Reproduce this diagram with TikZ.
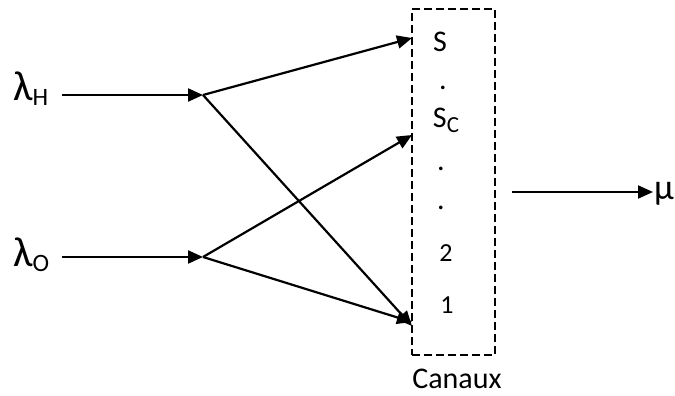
\documentclass[tikz,border=0pt]{standalone}
\usepackage{fontspec}
\setmainfont{Carlito}
\usetikzlibrary{arrows.meta}
\begin{document}
\begin{tikzpicture}[x=1pt,y=-1pt,
  arr/.style={line width=2.2pt,-{Triangle[length=15pt,width=13pt]}},
  lbl/.style={inner sep=0pt,anchor=base,font=\fontsize{30}{34}\selectfont},
  num/.style={inner sep=0pt,anchor=base,font=\fontsize{26}{30}\selectfont},
  big/.style={inner sep=0pt,anchor=base west,font=\fontsize{42}{46}\selectfont},
  sub/.style={font=\fontsize{25}{28}\selectfont}]
\useasboundingbox (0,0) rectangle (675,396);
% input labels
\node[big] (lH) at (13,100) {λ\raisebox{-5pt}{\fontsize{25}{28}\selectfont H}};
\node[big] (lO) at (13,266) {λ\raisebox{-5pt}{\fontsize{25}{28}\selectfont O}};
\coordinate (sH) at (62,95);
\coordinate (sO) at (62,257);
\coordinate (jH) at (203,95);
\coordinate (jO) at (203,257);
% channel box
\node[draw,line width=1.8pt,dash pattern=on 8pt off 4pt,minimum width=83pt,minimum height=346pt,inner sep=0pt] (box) at (453.5,182) {};
\coordinate (tS) at (412,38);
\coordinate (tSc) at (412,135);
\coordinate (t1a) at (412,326);
\coordinate (t1b) at (412,322);
% labels inside
\node[lbl] (nS) at (440,52) {S};
\node[lbl] (d1) at (443,89) {.};
\node[lbl] (nSc) at (446,128) {S\raisebox{-5pt}{\fontsize{23}{26}\selectfont C}};
\node[lbl] (d2) at (441,170) {.};
\node[lbl] (d3) at (441,209) {.};
\node[num] (n2) at (446,261) {2};
\node[num] (n1) at (447,313) {1};
\node[lbl] (can) at (457,388) {Canaux};
% output
\coordinate (sM) at (512,192);
\coordinate (eM) at (653,192);
\node[inner sep=0pt,anchor=base west,font=\fontsize{36}{40}\selectfont] (mu) at (654,199) {μ};
% arrows
\draw[arr] (sH) -- (jH);
\draw[arr] (sO) -- (jO);
\draw[arr] (jH) -- (tS);
\draw[arr] (jH) -- (t1a);
\draw[arr] (jO) -- (tSc);
\draw[arr] (jO) -- (t1b);
\draw[arr] (sM) -- (eM);
\end{tikzpicture}
\end{document}
